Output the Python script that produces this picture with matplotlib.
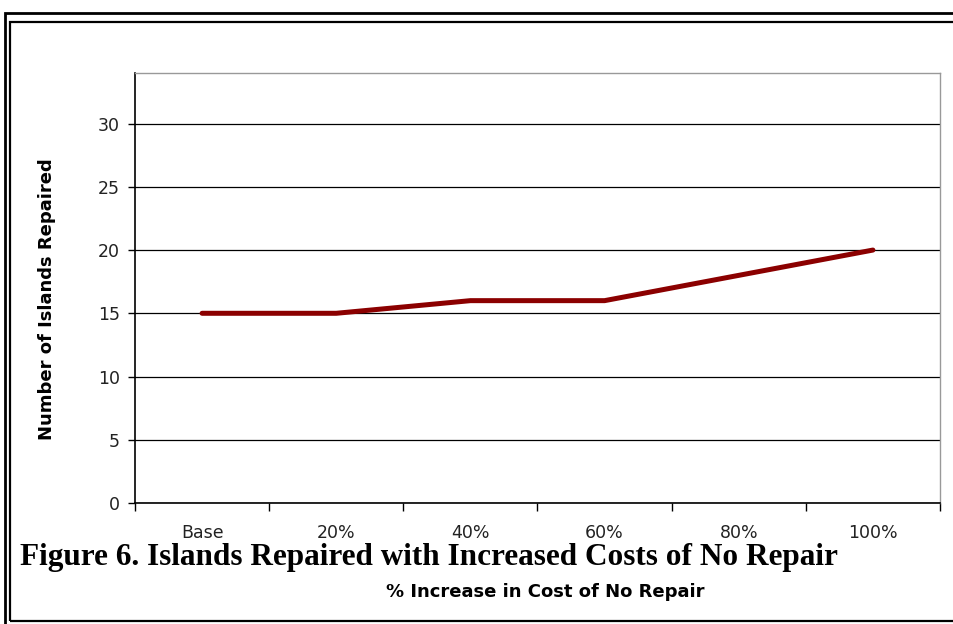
import matplotlib
matplotlib.use("Agg")
import matplotlib.pyplot as plt
from matplotlib.patches import Rectangle

categories = ["Base", "20%", "40%", "60%", "80%", "100%"]
islands_repaired = [15, 15, 16, 16, 18, 20]
y_ticks = [0, 5, 10, 15, 20, 25, 30]

W, H = 954, 624
fig = plt.figure(figsize=(W / 100, H / 100), dpi=100)

# frame borders
for (x0, y0, y1, lw) in [(5, 13, 640, 2.0), (10, 22, 621, 1.6)]:
    fig.patches.append(Rectangle((x0 / W, 1 - y1 / H), (1100 - x0) / W, (y1 - y0) / H,
                                 transform=fig.transFigure, fill=False,
                                 edgecolor="black", linewidth=lw))

ax = fig.add_axes([135 / W, 1 - 503 / H, (940 - 135) / W, (503 - 73) / H])
x = list(range(len(categories)))
ax.plot(x, islands_repaired, color="#8b0000", linewidth=3.6, solid_capstyle="round",
        solid_joinstyle="round", zorder=3)

ax.set_xlim(-0.5, len(categories) - 0.5)
ax.set_ylim(0, 34)
ax.set_yticks(y_ticks)
ax.set_yticklabels([str(v) for v in y_ticks])
ax.yaxis.grid(True, color="black", linewidth=0.9)
ax.set_axisbelow(True)

ax.set_xticks(x)
ax.set_xticklabels(categories)
ax.set_xticks([i - 0.5 for i in range(len(categories) + 1)], minor=True)
ax.tick_params(axis="x", which="major", length=0, pad=15, labelsize=12.5, labelcolor="#222222")
ax.tick_params(axis="x", which="minor", length=6, width=1, direction="out")
ax.tick_params(axis="y", length=5, width=1, direction="out", pad=6, labelsize=12.5, labelcolor="#222222")

for s in ["top", "right"]:
    ax.spines[s].set_color("#999999")
    ax.spines[s].set_linewidth(1.0)
for s in ["left", "bottom"]:
    ax.spines[s].set_color("black")
    ax.spines[s].set_linewidth(1.2)

fig.text(47 / W, 1 - 299 / H, "Number of Islands Repaired", rotation=90,
         ha="center", va="center", fontsize=13, fontweight="bold", family="DejaVu Sans")
fig.text(545 / W, 1 - 592 / H, "% Increase in Cost of No Repair",
         ha="center", va="center", fontsize=13, fontweight="bold", family="DejaVu Sans")
fig.text(20 / W, 1 - 558 / H, "Figure 6. Islands Repaired with Increased Costs of No Repair",
         ha="left", va="center", fontsize=22.5, fontweight="bold", family="Liberation Serif")

fig.savefig("out.png", dpi=100)
